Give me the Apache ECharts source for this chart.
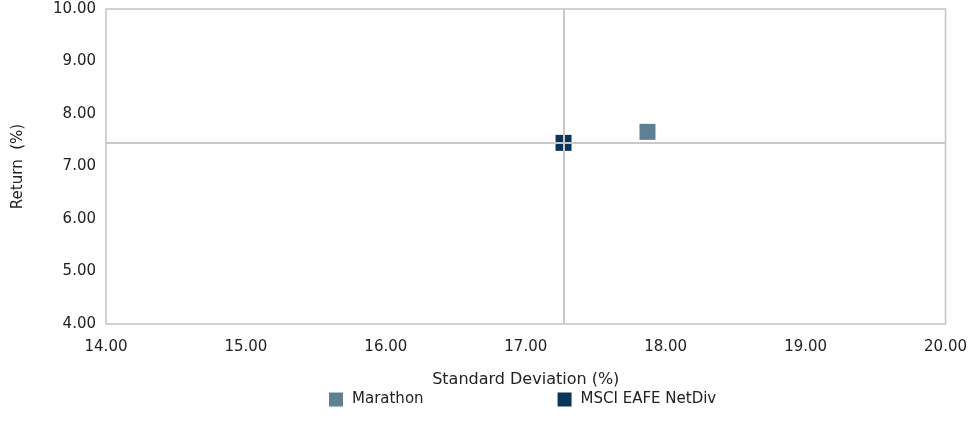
<!DOCTYPE html>
<html>
<head>
<meta charset="utf-8">
<script src="https://cdn.jsdelivr.net/npm/echarts@6/dist/echarts.min.js"></script>
<style>
  html, body { margin: 0; padding: 0; background: #fff; }
  #chart { width: 970px; height: 436px; }
</style>
</head>
<body>
<div id="chart"></div>
<script>
// Risk / return points: [standard deviation, return]
const seriesNames = ['Marathon', 'MSCI EAFE NetDiv'];
const marathonPoint = [17.87, 7.66];
const benchmarkPoint = [17.27, 7.45];
const xRange = [14, 20];
const yRange = [4, 10];

const FONT = '"DejaVu Sans", sans-serif';
const TEXT = '#222';

const chart = echarts.init(document.getElementById('chart'));
chart.setOption({
  animation: false,
  textStyle: { fontFamily: FONT },
  grid: { left: 106, right: 24, top: 9, bottom: 112, show: true, borderColor: '#c4c4c4', borderWidth: 1.5 },
  xAxis: {
    type: 'value', min: xRange[0], max: xRange[1], interval: 1,
    name: 'Standard Deviation (%)', nameLocation: 'middle', nameGap: 48,
    nameTextStyle: { color: TEXT, fontSize: 16, fontFamily: FONT },
    axisLine: { show: false }, axisTick: { show: false }, splitLine: { show: false },
    axisLabel: { color: TEXT, fontSize: 15, margin: 16, formatter: v => v.toFixed(2) }
  },
  yAxis: {
    type: 'value', min: yRange[0], max: yRange[1], interval: 1,
    name: 'Return  (%)', nameLocation: 'middle', nameGap: 80,
    nameTextStyle: { color: TEXT, fontSize: 15, fontFamily: FONT },
    axisLine: { show: false }, axisTick: { show: false }, splitLine: { show: false },
    axisLabel: { color: TEXT, fontSize: 15, margin: 10, formatter: v => v.toFixed(2) }
  },
  legend: {
    bottom: 24, left: 324, itemGap: 134, itemWidth: 14, itemHeight: 14,
    textStyle: { color: TEXT, fontSize: 15, fontFamily: FONT, padding: [0, 0, 0, 4] },
    data: [
      { name: seriesNames[0], icon: 'rect' },
      { name: seriesNames[1], icon: 'rect' }
    ]
  },
  series: [
    {
      name: seriesNames[1], type: 'scatter', symbol: 'rect', symbolSize: 16,
      itemStyle: { color: '#0b3558', opacity: 1 },
      data: [benchmarkPoint], z: 3,
      markLine: {
        silent: true, symbol: 'none', label: { show: false },
        lineStyle: { color: '#c8c8c8', width: 2, type: 'solid', opacity: 1 },
        data: [{ xAxis: benchmarkPoint[0] }, { yAxis: benchmarkPoint[1] }],
        z: 5
      }
    },
    {
      name: seriesNames[0], type: 'scatter', symbol: 'rect', symbolSize: 16,
      itemStyle: { color: '#5f7f92', opacity: 1 },
      data: [marathonPoint], z: 3
    }
  ]
});
</script>
</body>
</html>
